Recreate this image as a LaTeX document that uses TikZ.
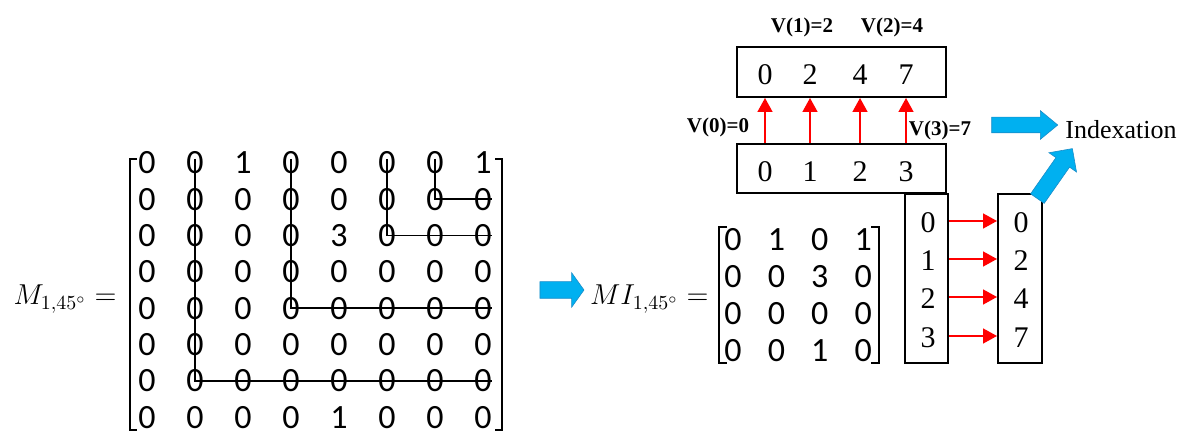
\documentclass[tikz,border=0pt]{standalone}
\usepackage{amsmath}
\usepackage{fontspec}
\setmainfont{Liberation Serif}
\newfontfamily\calfont{Carlito}
\usepackage{tikz}
\usetikzlibrary{arrows.meta}
\usetikzlibrary{shapes.arrows}
\definecolor{arrowblue}{HTML}{00B0F0}
\definecolor{arrowedge}{HTML}{1A8CC8}

\begin{document}
\begin{tikzpicture}[x=0.5pt, y=-0.5pt,
  cell/.style={font=\calfont\fontsize{17}{20}\selectfont, inner sep=0pt},
  num/.style={font=\fontsize{15}{18}\selectfont, inner sep=0pt},
  mlabel/.style={font=\fontsize{14}{17}\selectfont, inner sep=0pt, anchor=base east},
  vlab/.style={font=\bfseries\fontsize{10.5}{12}\selectfont},
  box/.style={draw, line width=1pt},
  brack/.style={line width=1.2pt},
  trace/.style={line width=0.8pt},
  redarrow/.style={red, line width=0.75pt, -{Triangle[length=7pt,width=7.5pt]}},
  bluearrow/.style={single arrow, fill=arrowblue, draw=arrowedge, line width=0.3pt,
    inner xsep=0pt, minimum width=0pt}]
\useasboundingbox (0,0) rectangle (1194,437);

% matrix M
\node[mlabel] (mlab) at (117,305) {$M_{1,45^\circ} =$};
\foreach \row [count=\r from 0] in {{0,0,1,0,0,0,0,1},{0,0,0,0,0,0,0,0},{0,0,0,0,3,0,0,0},{0,0,0,0,0,0,0,0},
    {0,0,0,0,0,0,0,0},{0,0,0,0,0,0,0,0},{0,0,0,0,0,0,0,0},{0,0,0,0,1,0,0,0}} {
  \foreach \v [count=\c from 0] in \row {
    \node[cell] (m-\r-\c) at ({147+48*\c},{163+36.3*\r}) {\v};
  }
}
\draw[brack] (137,159) -- (130,159) -- (130,430) -- (137,430);
\draw[brack] (495,159) -- (502,159) -- (502,430) -- (495,430);
\draw[trace] ([yshift=2pt]m-0-1.center) |- (m-6-7.east);
\draw[trace] ([yshift=2pt]m-0-3.center) |- (m-4-7.east);
\draw[trace] ([yshift=2pt]m-0-5.center) |- (m-2-7.east);
\draw[trace] ([yshift=2pt]m-0-6.center) |- (m-1-7.east);

\node[bluearrow, inner ysep=4pt, single arrow head extend=4.5pt, single arrow tip angle=109,
  minimum height=22pt] (go) at (559,290) {};

% matrix MI
\node[mlabel] (milab) at (709,305) {$MI_{1,45^\circ} =$};
\foreach \row [count=\r from 0] in {{0,1,0,1},{0,0,3,0},{0,0,0,0},{0,0,1,0}} {
  \foreach \v [count=\c from 0] in \row {
    \node[cell] (mi-\r-\c) at ({733+43.4*\c},{240+36.7*\r}) {\v};
  }
}
\draw[brack] (727,227) -- (719,227) -- (719,363) -- (727,363);
\draw[brack] (871,227) -- (879,227) -- (879,363) -- (871,363);

% index and value vectors
\node[box, minimum width=104.5pt, minimum height=25pt] (top) at (841.5,72) {};
\node[box, minimum width=104.5pt, minimum height=24.5pt] (bot) at (841.5,168.5) {};
\foreach \a/\b [count=\i from 0] in {765/0, 810/2, 860/4, 906/7} {
  \node[num] (t\i) at (\a,75) {\b};
}
\foreach \a/\b [count=\i from 0] in {765/0, 810/1, 860/2, 906/3} {
  \node[num] (b\i) at (\a,172) {\b};
}
\foreach \i in {0,...,3} {
  \draw[redarrow] (b\i |- bot.north) -- (b\i |- top.south);
}
\node[vlab] (v1) at (802,27) {V(1)=2};
\node[vlab] (v2) at (892,27) {V(2)=4};
\node[vlab] (v0) at (718,127) {V(0)=0};
\node[vlab] (v3) at (940,130) {V(3)=7};

% lookup columns
\node[box, minimum width=21.5pt, minimum height=84.5pt] (lcol) at (926.5,278.5) {};
\node[box, minimum width=22pt, minimum height=84.5pt] (rcol) at (1020,278.5) {};
\foreach \b/\y [count=\i from 0] in {0/223, 1/261, 2/299, 3/338} {
  \node[num] (l\i) at (928,\y) {\b};
}
\foreach \b/\y [count=\i from 0] in {0/223, 2/261, 4/299, 7/338} {
  \node[num] (r\i) at (1021,\y) {\b};
}
\foreach \i in {0,...,3} {
  \draw[redarrow] ([yshift=1pt]l\i -| lcol.east) -- ([yshift=1pt]l\i -| rcol.west);
}

% indexation
\node[font=\fontsize{13}{15}\selectfont] (idx) at (1121,130) {Indexation};
\node[bluearrow, inner ysep=3.75pt, single arrow head extend=3.25pt, single arrow tip angle=79,
  minimum height=33pt] (toidx) at (1020,125) {};
\node[bluearrow, inner ysep=4pt, single arrow head extend=4.25pt, single arrow tip angle=90,
  minimum height=30.5pt, rotate=55] (upidx) at (1052.5,177) {};
\end{tikzpicture}
\end{document}
